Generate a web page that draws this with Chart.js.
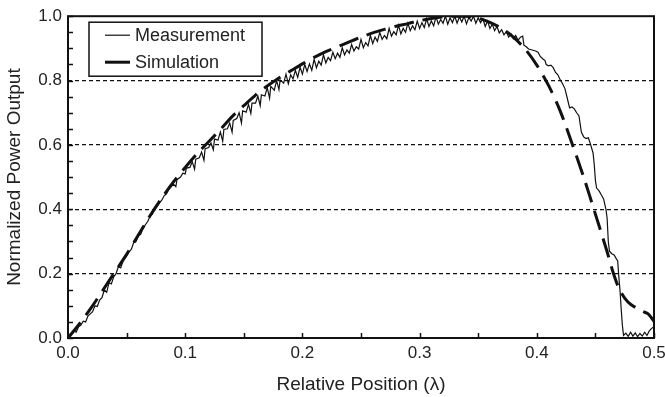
<!DOCTYPE html>
<html>
<head>
<meta charset="utf-8">
<script src="https://cdn.jsdelivr.net/npm/chart.js@4"></script>
<style>
  body { margin: 0; background: #fff; }
  #wrap { width: 665px; height: 397px; }
</style>
</head>
<body>
<div id="wrap"><canvas id="chart"></canvas></div>
<script>
// simulation curve (smooth, dashed)
const simX = [0, 0.01, 0.02, 0.03, 0.04, 0.05, 0.06, 0.07, 0.08, 0.09, 0.10, 0.11, 0.12, 0.13, 0.14, 0.15,
  0.16, 0.17, 0.18, 0.19, 0.20, 0.21, 0.22, 0.23, 0.24, 0.25, 0.26, 0.27, 0.28, 0.29, 0.30, 0.31, 0.32,
  0.33, 0.34, 0.35, 0.36, 0.37, 0.38, 0.39, 0.40, 0.41, 0.42, 0.43, 0.44, 0.45, 0.46, 0.465, 0.47, 0.475,
  0.48, 0.49, 0.495, 0.50];
const simY = [0, 0.045, 0.095, 0.15, 0.205, 0.26, 0.32, 0.38, 0.435, 0.485, 0.53, 0.572, 0.61, 0.648, 0.688, 0.722,
  0.755, 0.783, 0.808, 0.83, 0.852, 0.872, 0.89, 0.905, 0.92, 0.935, 0.948, 0.959, 0.969, 0.977, 0.986, 0.993, 0.998,
  1.0, 1.0, 0.994, 0.981, 0.962, 0.935, 0.898, 0.848, 0.785, 0.705, 0.605, 0.5, 0.385, 0.268, 0.205, 0.155, 0.124,
  0.105, 0.083, 0.075, 0.052];

// measured curve (noisy), one row of x per row of y
const measX = [
  0.000, 0.003, 0.005, 0.007, 0.009, 0.011, 0.013, 0.015, 0.017, 0.019, 0.021, 0.023, 0.025, 0.027, 0.029,
  0.031, 0.033, 0.035, 0.037, 0.039, 0.041, 0.043, 0.045, 0.047, 0.050, 0.052, 0.054, 0.056, 0.058, 0.060, 0.062,
  0.064, 0.066, 0.068, 0.070, 0.072, 0.074, 0.076, 0.078, 0.080, 0.082, 0.084, 0.086, 0.088, 0.090, 0.092, 0.093,
  0.096, 0.098, 0.100, 0.101, 0.104, 0.106, 0.108, 0.109, 0.112, 0.114, 0.116, 0.117, 0.120, 0.122, 0.124, 0.125,
  0.128, 0.130, 0.132, 0.133, 0.136, 0.138, 0.140, 0.141, 0.144, 0.146, 0.148, 0.149, 0.152, 0.154, 0.156, 0.157,
  0.160, 0.162, 0.164, 0.165, 0.168, 0.170, 0.172, 0.173, 0.176, 0.178, 0.180, 0.181, 0.184, 0.186, 0.188, 0.190,
  0.192, 0.194, 0.196, 0.198, 0.200, 0.202, 0.204, 0.206, 0.208, 0.210, 0.212, 0.214, 0.216, 0.218, 0.220, 0.222,
  0.224, 0.226, 0.228, 0.230, 0.232, 0.234, 0.236, 0.238, 0.240, 0.242, 0.244, 0.246, 0.248, 0.250, 0.252, 0.254,
  0.256, 0.258, 0.260, 0.262, 0.264, 0.266, 0.268, 0.270, 0.272, 0.274, 0.276, 0.278, 0.280, 0.282, 0.284, 0.286,
  0.288, 0.290, 0.292, 0.294, 0.296, 0.298, 0.300, 0.302, 0.304, 0.306, 0.308, 0.310, 0.312, 0.314, 0.316, 0.318,
  0.320, 0.322, 0.324, 0.326, 0.328, 0.330, 0.332, 0.334, 0.336, 0.338, 0.340, 0.342, 0.344, 0.346, 0.348, 0.350,
  0.352, 0.354, 0.356, 0.358, 0.360, 0.362, 0.364, 0.366, 0.368, 0.370, 0.372, 0.374, 0.376, 0.378, 0.380, 0.382,
  0.384, 0.386, 0.388, 0.389, 0.391, 0.393, 0.396, 0.399, 0.401, 0.403, 0.405, 0.407, 0.408, 0.410, 0.412, 0.414,
  0.416, 0.418, 0.420, 0.422, 0.424, 0.426, 0.428, 0.430, 0.432, 0.434, 0.436, 0.438, 0.440, 0.442, 0.444, 0.446,
  0.448, 0.449, 0.450, 0.451, 0.453, 0.455, 0.457, 0.459, 0.460, 0.461, 0.462, 0.464, 0.466, 0.468, 0.469, 0.470,
  0.471, 0.472, 0.473, 0.474, 0.476, 0.478, 0.480, 0.482, 0.484, 0.486, 0.488, 0.490, 0.492, 0.494, 0.496, 0.498, 0.500];
const measY = [
  0.000, 0.012, 0.022, 0.018, 0.035, 0.040, 0.052, 0.050, 0.068, 0.075, 0.082, 0.100, 0.098, 0.118, 0.125,
  0.150, 0.142, 0.172, 0.168, 0.190, 0.200, 0.222, 0.218, 0.240, 0.255, 0.268, 0.275, 0.296, 0.300, 0.318, 0.322,
  0.340, 0.352, 0.362, 0.378, 0.385, 0.400, 0.408, 0.420, 0.428, 0.442, 0.448, 0.462, 0.470, 0.478, 0.470, 0.492,
  0.500, 0.512, 0.510, 0.528, 0.530, 0.548, 0.525, 0.556, 0.560, 0.578, 0.552, 0.588, 0.592, 0.606, 0.585, 0.618,
  0.615, 0.640, 0.612, 0.648, 0.650, 0.668, 0.640, 0.676, 0.682, 0.700, 0.668, 0.706, 0.702, 0.726, 0.698, 0.730,
  0.730, 0.752, 0.722, 0.756, 0.752, 0.778, 0.745, 0.782, 0.770, 0.800, 0.772, 0.802, 0.792, 0.820, 0.790, 0.818,
  0.805, 0.832, 0.810, 0.842, 0.820, 0.850, 0.828, 0.852, 0.832, 0.866, 0.840, 0.860, 0.848, 0.880, 0.855, 0.872,
  0.862, 0.888, 0.868, 0.885, 0.872, 0.902, 0.880, 0.895, 0.885, 0.912, 0.892, 0.905, 0.898, 0.928, 0.902, 0.918,
  0.908, 0.940, 0.915, 0.935, 0.922, 0.950, 0.928, 0.940, 0.930, 0.962, 0.938, 0.952, 0.942, 0.972, 0.945, 0.962,
  0.950, 0.978, 0.955, 0.970, 0.958, 0.985, 0.962, 0.980, 0.965, 0.992, 0.968, 0.985, 0.970, 0.998, 0.975, 0.990,
  0.978, 1.000, 0.975, 0.995, 0.980, 1.000, 0.978, 0.998, 0.982, 1.000, 0.976, 0.996, 0.985, 1.000, 0.978, 0.995,
  0.980, 0.992, 0.968, 0.985, 0.962, 0.975, 0.955, 0.968, 0.948, 0.958, 0.942, 0.952, 0.935, 0.945, 0.930, 0.940,
  0.925, 0.935, 0.938, 0.910, 0.905, 0.898, 0.895, 0.892, 0.888, 0.875, 0.868, 0.862, 0.850, 0.846, 0.848, 0.840,
  0.825, 0.818, 0.802, 0.790, 0.775, 0.745, 0.715, 0.718, 0.712, 0.700, 0.690, 0.640, 0.625, 0.620, 0.622, 0.600,
  0.575, 0.540, 0.490, 0.466, 0.458, 0.445, 0.432, 0.400, 0.372, 0.300, 0.270, 0.262, 0.258, 0.245, 0.240, 0.190,
  0.148, 0.090, 0.040, 0.008, 0.015, 0.005, 0.018, 0.006, 0.016, 0.004, 0.014, 0.006, 0.018, 0.008, 0.022, 0.030, 0.035];

const seriesLabels = ['Measurement', 'Simulation'];
const xTitle = 'Relative Position (\u03bb)';
const yTitle = 'Normalized Power Output';

const FONT = "'Liberation Sans', Arial, Helvetica, sans-serif";
const TEXT = '#222';

function toPoints(xs, ys) {
    return xs.map(function(x, i) { return { x: x, y: ys[i] }; });
}

function isMultiple(v, step) {
    const r = Math.round(v / step);
    return Math.abs(v - r * step) < 1e-6;
}

// frame, inward ticks and the boxed legend
const framePlugin = {
    id: 'frame',
    afterDatasetsDraw: function(chart) {
        const ctx = chart.ctx;
        const a = chart.chartArea;
        const xs = chart.scales.x;
        const ys = chart.scales.y;
        ctx.save();
        ctx.strokeStyle = '#111';
        ctx.lineWidth = 1.5;
        ctx.beginPath();
        ys.ticks.forEach(function(t) {
            const py = Math.round(ys.getPixelForValue(t.value)) + 0.5;
            ctx.moveTo(a.left, py);
            ctx.lineTo(a.left + 5, py);
        });
        xs.ticks.forEach(function(t) {
            const px = Math.round(xs.getPixelForValue(t.value)) + 0.5;
            ctx.moveTo(px, a.bottom);
            ctx.lineTo(px, a.bottom - 5);
        });
        ctx.stroke();
        ctx.lineWidth = 2;
        ctx.strokeRect(a.left, a.top, a.right - a.left, a.bottom - a.top);
        ctx.restore();
    },
    afterDraw: function(chart) {
        const ctx = chart.ctx;
        const a = chart.chartArea;
        const bx = a.left + 21;
        const by = a.top + 6;
        ctx.save();
        ctx.fillStyle = '#fff';
        ctx.fillRect(bx, by, 173, 54);
        ctx.strokeStyle = '#111';
        ctx.lineWidth = 1.5;
        ctx.strokeRect(bx, by, 173, 54);
        ctx.font = '18px ' + FONT;
        ctx.textBaseline = 'middle';
        ctx.fillStyle = TEXT;
        chart.data.datasets.forEach(function(ds, i) {
            const ly = by + 13 + i * 27;
            ctx.strokeStyle = ds.borderColor;
            ctx.lineWidth = ds.borderWidth;
            ctx.beginPath();
            ctx.moveTo(bx + 16, ly);
            ctx.lineTo(bx + 41, ly);
            ctx.stroke();
            ctx.fillText(ds.label, bx + 46, ly + 1);
        });
        ctx.restore();
    }
};

new Chart(document.getElementById('chart'), {
    type: 'line',
    data: {
        datasets: [{
            label: seriesLabels[0],
            data: toPoints(measX, measY),
            borderColor: '#111',
            borderWidth: 1.2,
            pointRadius: 0,
            tension: 0,
            order: 1
        }, {
            label: seriesLabels[1],
            data: toPoints(simX, simY),
            borderColor: '#111',
            borderWidth: 3,
            borderDash: [20, 9],
            pointRadius: 0,
            tension: 0.3,
            order: 0
        }]
    },
    options: {
        responsive: true,
        maintainAspectRatio: false,
        animation: false,
        layout: { padding: { top: 14, right: 11, left: 0, bottom: 0 } },
        plugins: { legend: { display: false }, tooltip: { enabled: false } },
        scales: {
            x: {
                type: 'linear',
                min: 0,
                max: 0.5,
                afterFit: function(scale) {
                    scale.height = 59;
                    scale.paddingRight = 0;
                },
                border: { display: false },
                grid: { display: false, drawTicks: false },
                ticks: {
                    stepSize: 0.05,
                    autoSkip: false,
                    maxRotation: 0,
                    padding: 5,
                    color: TEXT,
                    font: { family: FONT, size: 17 },
                    callback: function(v) { return isMultiple(v, 0.1) ? v.toFixed(1) : ''; }
                },
                title: {
                    display: true,
                    text: xTitle,
                    color: TEXT,
                    font: { family: FONT, size: 19 },
                    padding: { top: 0, bottom: 1 }
                }
            },
            y: {
                min: 0,
                max: 1,
                afterFit: function(scale) { scale.width = 68; },
                border: { display: false, dash: [4, 3] },
                grid: {
                    drawTicks: false,
                    lineWidth: 1.3,
                    color: function(c) {
                        const v = c.tick ? c.tick.value : 0;
                        return (v > 0.01 && v < 0.99 && isMultiple(v, 0.2)) ? '#111' : 'rgba(0,0,0,0)';
                    }
                },
                ticks: {
                    stepSize: 0.05,
                    autoSkip: false,
                    padding: 6,
                    color: TEXT,
                    font: { family: FONT, size: 17 },
                    callback: function(v) { return isMultiple(v, 0.2) ? v.toFixed(1) : ''; }
                },
                title: {
                    display: true,
                    text: yTitle,
                    color: TEXT,
                    font: { family: FONT, size: 19 },
                    padding: { top: 3, bottom: 0 }
                }
            }
        }
    },
    plugins: [framePlugin]
});
</script>
</body>
</html>
